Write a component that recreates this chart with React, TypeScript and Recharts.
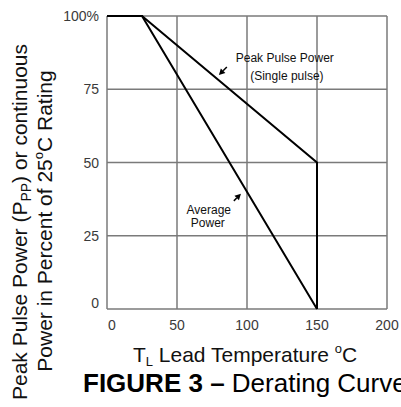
import React from 'react';
import { LineChart, Line, XAxis, YAxis, CartesianGrid, ReferenceDot, ReferenceLine } from 'recharts';

const xTicks = [0, 50, 100, 150, 200];
const yTicks = [0, 25, 50, 75, 100];

const peakTemp = [0, 25, 150, 150];
const peakPct = [100, 100, 50, 0];
const avgTemp = [0, 25, 150];
const avgPct = [100, 100, 0];

const peakData = peakTemp.map((t, i) => ({ t, v: peakPct[i] }));
const avgData = avgTemp.map((t, i) => ({ t, v: avgPct[i] }));

const FONT = '"Liberation Sans", Arial, sans-serif';

const XTick = (props: any) => {
  const { x, y, payload } = props;
  return (
    <text x={x + (payload.value === 0 ? 5 : 0)} y={y + 16} textAnchor="middle" dominantBaseline="central"
      fontFamily={FONT} fontSize={14} fill="#3a3a3a">{payload.value}</text>
  );
};

const YTick = (props: any) => {
  const { x, y, payload } = props;
  return (
    <text x={x - 8} y={y + (payload.value === 0 ? -6 : 0)} textAnchor="end" dominantBaseline="central"
      fontFamily={FONT} fontSize={14} fill="#3a3a3a">{payload.value === 100 ? '100%' : payload.value}</text>
  );
};

const textShape = (label: string) => (p: any) => (
  <text x={p.cx} y={p.cy} textAnchor="middle" dominantBaseline="central" fontFamily={FONT} fontSize={12} fill="#111">{label}</text>
);

const arrowShape = (p: any) => {
  const { x1, y1, x2, y2 } = p;
  const ang = Math.atan2(y2 - y1, x2 - x1);
  const L = 6, W = 3.2;
  const bx = x2 - L * Math.cos(ang), by = y2 - L * Math.sin(ang);
  const px = -Math.sin(ang) * W, py = Math.cos(ang) * W;
  return (
    <g>
      <line x1={x1} y1={y1} x2={bx} y2={by} stroke="#000" strokeWidth={1.5} />
      <polygon points={`${x2},${y2} ${bx + px},${by + py} ${bx - px},${by - py}`} fill="#000" />
    </g>
  );
};

export default function App() {
  return (
    <div style={{ position: 'absolute', left: 0, top: 0, width: 401, height: 407, background: '#fff', overflow: 'hidden' }}>
      <LineChart width={401} height={407} margin={{ top: 16, right: 14, bottom: 68, left: 50 }}>
        <CartesianGrid stroke="#7a7a7a" strokeWidth={1.5} ticks={undefined as any} />
        <XAxis type="number" dataKey="t" domain={[0, 200]} ticks={xTicks} axisLine={false} tickLine={false}
          tickSize={0} tickMargin={0} height={30} tick={<XTick />} interval={0} allowDataOverflow />
        <YAxis type="number" dataKey="v" domain={[0, 100]} ticks={yTicks} axisLine={false} tickLine={false}
          tickSize={0} tickMargin={0} width={57} tick={<YTick />} interval={0} />
        <Line data={avgData} dataKey="v" type="linear" stroke="#000" strokeWidth={2} dot={false} isAnimationActive={false} />
        <Line data={peakData} dataKey="v" type="linear" stroke="#000" strokeWidth={2} dot={false} isAnimationActive={false} />
        <ReferenceDot x={127} y={85.7} r={0} shape={textShape('Peak Pulse Power')} />
        <ReferenceDot x={128.5} y={79.5} r={0} shape={textShape('(Single pulse)')} />
        <ReferenceDot x={72.7} y={33.9} r={0} shape={textShape('Average')} />
        <ReferenceDot x={72} y={29.4} r={0} shape={textShape('Power')} />
        <ReferenceLine segment={[{ x: 85.6, y: 82.6 }, { x: 79.9, y: 79.9 }]} shape={arrowShape} />
        <ReferenceLine segment={[{ x: 90.6, y: 36.9 }, { x: 95.7, y: 39.3 }]} shape={arrowShape} />
      </LineChart>
      <svg width={401} height={407} style={{ position: 'absolute', left: 0, top: 0, pointerEvents: 'none' }}>
        <text transform="translate(27,222) rotate(-90)" textAnchor="middle" fontFamily={FONT} fontSize={21} fill="#111">
          Peak Pulse Power (P<tspan fontSize={14} dy={4}>PP</tspan><tspan dy={-4}>) or continuous</tspan>
        </text>
        <text transform="translate(52,221) rotate(-90)" textAnchor="middle" fontFamily={FONT} fontSize={21} fill="#111">
          Power in Percent of 25<tspan fontSize={13} dy={-9}>o</tspan><tspan dy={9}>C Rating</tspan>
        </text>
        <text x={245} y={362} textAnchor="middle" fontFamily={FONT} fontSize={21} fill="#111">
          T<tspan fontSize={13} dy={4}>L</tspan><tspan dy={-4}> Lead Temperature </tspan><tspan fontSize={13} dy={-9}>o</tspan><tspan dy={9}>C</tspan>
        </text>
        <text x={83} y={392} fontFamily={FONT} fontSize={26} fill="#000">
          <tspan fontWeight="bold">FIGURE 3 –</tspan> Derating Curve
        </text>
      </svg>
    </div>
  );
}
